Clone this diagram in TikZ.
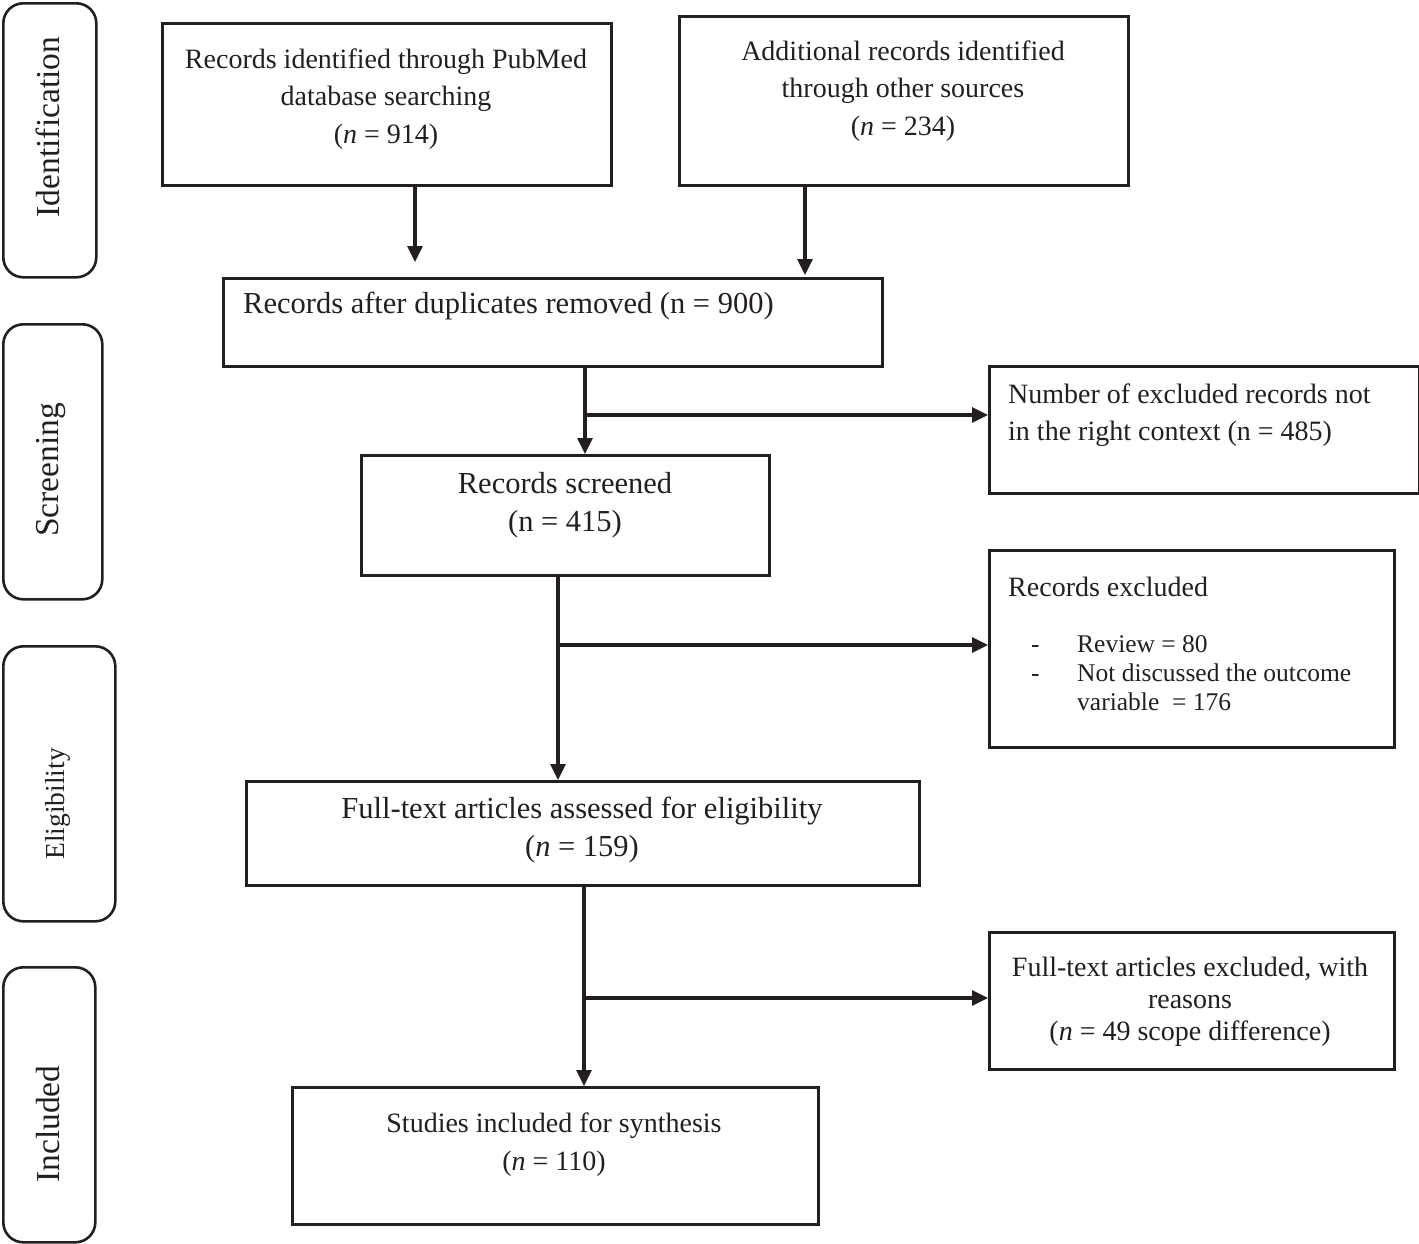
\documentclass[tikz,border=0pt]{standalone}
\usepackage{fontspec}
\setmainfont{Liberation Serif}
\usetikzlibrary{arrows.meta}
\definecolor{ink}{RGB}{35,31,32}
\begin{document}
\begin{tikzpicture}[x=1pt,y=-1pt,
  box/.style={draw=ink, line width=3pt, anchor=north west, inner sep=0pt},
  side/.style={draw=ink, line width=2.6pt, rounded corners=20pt, anchor=north west, inner sep=0pt},
  txt/.style={text=ink, inner sep=0pt, align=center, font=\fontsize{28}{37.5}\selectfont},
  txtb/.style={text=ink, inner sep=0pt, align=center, font=\fontsize{30.5}{38.5}\selectfont},
  sidetxt/.style={text=ink, inner sep=0pt, rotate=90, font=\fontsize{33.5}{40}\selectfont},
  arr/.style={draw=ink, line width=3.2pt, -{Triangle[length=16pt,width=15pt]}}]
\useasboundingbox (0,0) rectangle (1419,1243);

% side stage boxes
\node[side, minimum width=93pt, minimum height=274pt] (s1) at (2,2) {};
\node[side, minimum width=99pt, minimum height=275pt] (s2) at (2,323) {};
\node[side, minimum width=112pt, minimum height=275pt] (s3) at (2,645) {};
\node[side, minimum width=92pt, minimum height=275pt] (s4) at (2,966) {};
\node[sidetxt] (l1) at (48,127) {Identification};
\node[sidetxt] (l2) at (51,470) {Screening};
\node[sidetxt, font=\fontsize{27.5}{33}\selectfont] (l3) at (58,804) {Eligibility};
\node[sidetxt] (l4) at (48,1124) {Included};

% main boxes
\node[box, minimum width=449pt, minimum height=162pt] (b1) at (161,22) {};
\node[box, minimum width=449pt, minimum height=169pt] (b2) at (678,15) {};
\node[box, minimum width=659pt, minimum height=88pt] (b3) at (222,277) {};
\node[box, minimum width=430pt, minimum height=127pt] (b4) at (988,365) {};
\node[box, minimum width=408pt, minimum height=120pt] (b5) at (360,454) {};
\node[box, minimum width=405pt, minimum height=197pt] (b6) at (988,549) {};
\node[box, minimum width=673pt, minimum height=104pt] (b7) at (245,780) {};
\node[box, minimum width=405pt, minimum height=137pt] (b8) at (988,931) {};
\node[box, minimum width=526pt, minimum height=137pt] (b9) at (291,1086) {};

% texts
\node[txt] (t1) at (386,99) {Records identified through PubMed\\database searching\\(\textit{n} = 914)};
\node[txt] (t2) at (903,91) {Additional records identified\\through other sources\\(\textit{n} = 234)};
\node[txtb, anchor=west] (t3) at (243,306) {Records after duplicates removed (n = 900)};
\node[txt, align=left, anchor=west] (t4) at (1008,415) {Number of excluded records not\\in the right context (n = 485)};
\node[txtb] (t5) at (565,505) {Records screened\\(n = 415)};
\node[txt, anchor=west] (t6) at (1008,587) {Records excluded};
\node[text=ink, inner sep=0pt, anchor=north west, font=\fontsize{25.5}{29}\selectfont] (t6b) at (1031,632)
  {\begin{tabular}{@{}l@{\hspace{37.5pt}}l@{}}
   - & Review = 80\\
   - & Not discussed the outcome\\
     & variable \ = 176
   \end{tabular}};
\node[txtb] (t7) at (582,830) {Full-text articles assessed for eligibility\\(\textit{n} = 159)};
\node[txt, font=\fontsize{28}{32}\selectfont] (t8) at (1190,1002) {Full-text articles excluded, with\\reasons\\(\textit{n} = 49 scope difference)};
\node[txt, font=\fontsize{28}{38}\selectfont] (t9) at (554,1145) {Studies included for synthesis\\(\textit{n} = 110)};

% connectors
\coordinate (e1) at (415,262);
\coordinate (e2) at (805,275);
\coordinate (x3) at (585,415);
\coordinate (x5) at (558,645);
\coordinate (x7) at (584,998);
\draw[arr] (b1.south -| e1) -- (e1);
\draw[arr] (b2.south -| e2) -- (e2);
\draw[arr] (b3.south -| x3) -- (b5.north -| x3);
\draw[arr] (x3) -- (x3 -| b4.west);
\draw[arr] (b5.south -| x5) -- (b7.north -| x5);
\draw[arr] (x5) -- (x5 -| b6.west);
\draw[arr] (b7.south -| x7) -- (b9.north -| x7);
\draw[arr] (x7) -- (x7 -| b8.west);
\end{tikzpicture}
\end{document}
